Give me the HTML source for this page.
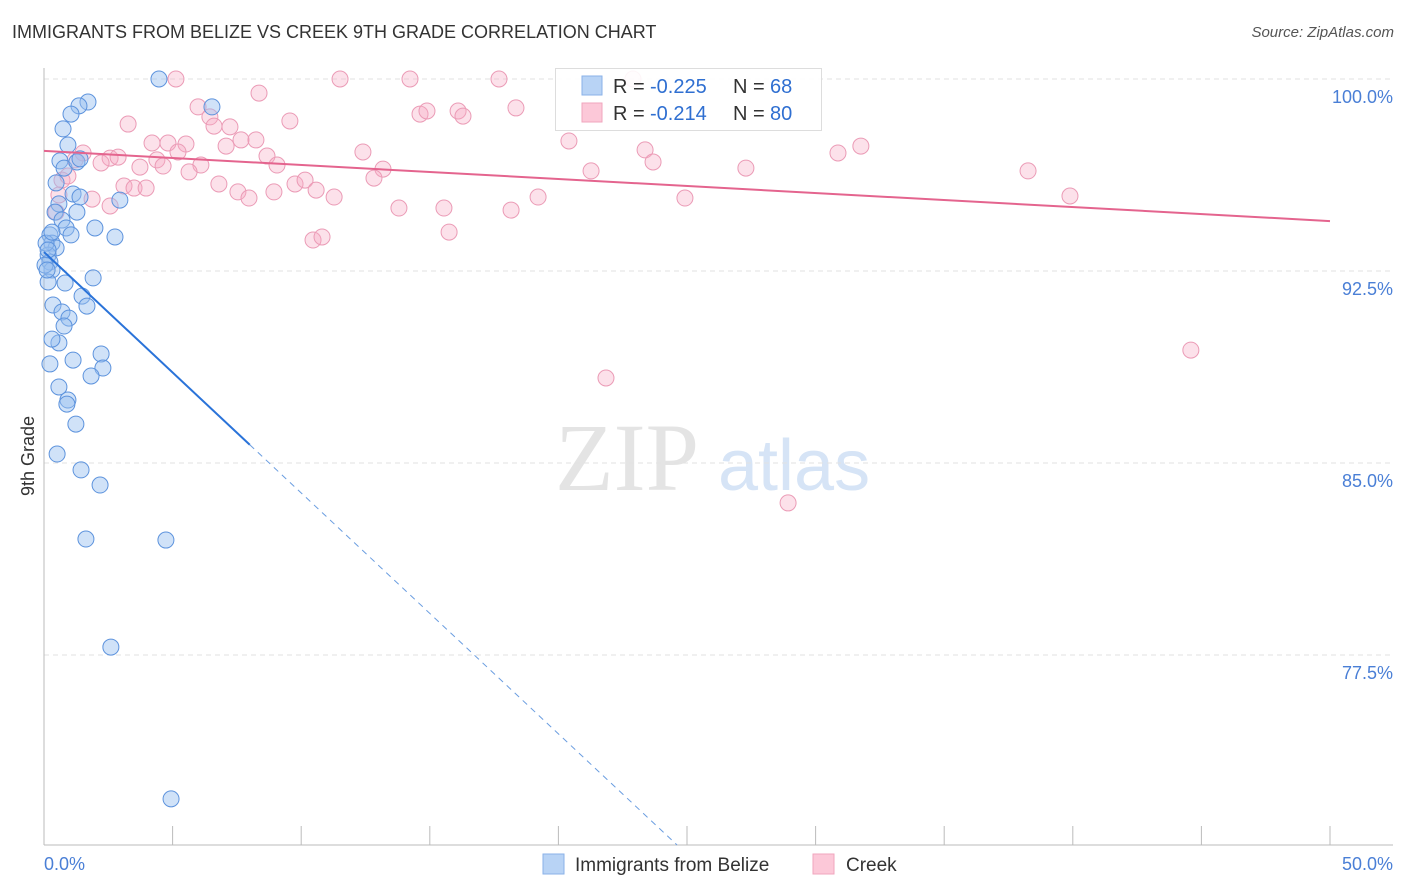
<!DOCTYPE html>
<html><head><meta charset="utf-8"><style>
body{margin:0;background:#fff;font-family:"Liberation Sans",sans-serif;}
#wrap{position:relative;width:1406px;height:892px;overflow:hidden;}
.t{position:absolute;white-space:nowrap;}
</style></head><body>
<div id="wrap">
<div class="t" style="left:12px;top:22px;font-size:18px;color:#333;">IMMIGRANTS FROM BELIZE VS CREEK 9TH GRADE CORRELATION CHART</div>
<div class="t" style="right:12px;top:24px;font-size:15px;color:#555;font-style:italic;">Source: ZipAtlas.com</div>
<svg id="chart" width="1406" height="892" style="position:absolute;left:0;top:0"></svg>
</div>
<script>
const blueX=[4.47,6.53,1.71,1.36,1.05,0.74,0.93,0.62,0.78,1.28,1.40,0.47,1.13,0.58,1.40,2.95,0.43,1.28,0.70,0.86,1.05,1.98,2.76,0.23,0.31,0.47,0.16,0.23,0.31,0.82,1.91,0.16,1.48,1.67,0.35,0.70,0.97,0.78,0.58,0.31,1.13,0.23,2.22,2.29,1.83,0.58,0.93,0.89,1.24,0.51,1.44,2.18,1.63,4.74,2.60,4.94,0.08,0.16,0.31,0.04,0.12];
const blueY=[100,98.91,99.10,98.95,98.63,98.05,97.42,96.80,96.52,96.76,96.88,95.94,95.51,95.12,95.39,95.27,94.80,94.80,94.49,94.18,93.91,94.18,93.83,93.91,93.59,93.40,93.12,92.85,92.54,92.03,92.23,92.07,91.52,91.13,91.17,90.90,90.66,90.35,89.69,89.84,89.02,88.87,89.26,88.71,88.40,87.97,87.46,87.30,86.52,85.35,84.73,84.14,82.03,81.99,77.81,71.88,93.59,93.32,94.02,92.73,92.54];
const pinkX=[5.13,11.51,14.23,17.69,22.90,8.36,5.99,6.45,6.61,3.27,7.23,14.62,14.89,16.10,16.29,18.35,9.56,4.20,4.82,5.52,7.66,8.24,7.08,12.40,20.41,23.37,31.76,30.87,1.52,2.57,2.22,2.88,4.39,5.21,8.67,9.06,6.10,5.64,4.63,3.73,13.18,12.83,21.27,23.68,27.29,38.26,39.89,24.92,19.21,3.11,3.50,3.97,6.80,7.54,7.97,8.94,9.76,10.15,10.58,11.28,1.87,2.57,13.80,15.55,18.16,10.46,10.81,15.75,44.59,21.85,28.93,0.70,0.58,0.47,1.21,0.93];
const pinkY=[100,100,100,100,100,99.45,98.91,98.52,98.16,98.24,98.13,98.63,98.75,98.75,98.55,98.87,98.36,97.50,97.50,97.46,97.62,97.62,97.38,97.15,97.58,97.23,97.38,97.11,97.11,96.91,96.72,96.95,96.84,97.15,96.99,96.64,96.64,96.37,96.60,96.56,96.48,96.13,96.41,96.76,96.52,96.41,95.43,95.35,95.39,95.82,95.74,95.74,95.90,95.59,95.35,95.59,95.90,96.05,95.66,95.39,95.31,95.04,94.96,94.96,94.88,93.71,93.83,94.02,89.41,88.32,83.44,96.05,95.47,94.80,96.84,96.21];
const yTicks=[100,92.5,85,77.5];
const yTickLabels=["100.0%","92.5%","85.0%","77.5%"];
const blueTrend=[93.24,-0.941];
const pinkTrend=[97.19,-0.0548];

const NS="http://www.w3.org/2000/svg";
const svg=document.getElementById('chart');
const X0=44,X1=1330,YB=845;
const sx=v=>X0+(v/50)*(X1-X0);
const sy=v=>79+(100-v)*25.6;
function el(tag,attrs,parent){const e=document.createElementNS(NS,tag);for(const k in attrs)e.setAttribute(k,attrs[k]);(parent||svg).appendChild(e);return e;}

// watermark
let w=el('text',{x:555,y:490,'font-size':96,fill:'#e4e4e4','font-family':'Liberation Serif'});w.textContent='ZIP';


let w2=el('text',{x:718,y:490,'font-size':72,fill:'#d6e4f6','font-family':'Liberation Sans'});w2.textContent='atlas';



yTicks.forEach((v,i)=>{
  const g=el('line',{x1:X0,x2:1393,y1:sy(v),y2:sy(v),stroke:'#e2e2e2','stroke-dasharray':'5,4'});
  
  
  const t=el('text',{x:1393,y:sy(v)+24,'text-anchor':'end','font-size':18,fill:'#4a7fd6'});t.textContent=yTickLabels[i];
  
  
});
let ax=el('line',{x1:X0,x2:X0,y1:68,y2:YB,stroke:'#bbb'});


let bx=el('line',{x1:X0,x2:1393,y1:YB,y2:YB,stroke:'#bbb'});


for(let i=0;i<=10;i++){const tk=el('line',{x1:X0+i*128.6,x2:X0+i*128.6,y1:826,y2:YB,stroke:'#bbb'});
  
  }
let xl=el('text',{x:44,y:870,'font-size':18,fill:'#4a7fd6'});xl.textContent='0.0%';


let xr=el('text',{x:1393,y:870,'font-size':18,fill:'#4a7fd6','text-anchor':'end'});xr.textContent='50.0%';


let yt=el('text',{x:34,y:456,'font-size':18,fill:'#333','text-anchor':'middle',transform:'rotate(-90 34 456)'});yt.textContent='9th Grade';



pinkX.forEach((x,i)=>{const c=el('circle',{cx:sx(x),cy:sy(pinkY[i]),r:8,fill:'rgba(245,170,195,0.35)',stroke:'#eb9bb6','stroke-width':1});
  
  });
blueX.forEach((x,i)=>{const c=el('circle',{cx:sx(x),cy:sy(blueY[i]),r:8,fill:'rgba(150,190,240,0.45)',stroke:'#5d93dd','stroke-width':1});
  
  });

// trends
const bxEnd=8;const bxZero=(sy.inv=(p)=>100-(p-79)/25.6, (blueTrend[0]-sy.inv(YB))/(-blueTrend[1]));
let bl=el('line',{x1:sx(0),y1:sy(blueTrend[0]),x2:sx(bxEnd),y2:sy(blueTrend[0]+blueTrend[1]*bxEnd),stroke:'#2a73d9','stroke-width':2});


let bd=el('line',{x1:sx(bxEnd),y1:sy(blueTrend[0]+blueTrend[1]*bxEnd),x2:sx(bxZero),y2:YB,stroke:'#6a9de0','stroke-width':1,'stroke-dasharray':'6,5'});


let pl=el('line',{x1:sx(0),y1:sy(pinkTrend[0]),x2:sx(50),y2:sy(pinkTrend[0]+pinkTrend[1]*50),stroke:'#e4648e','stroke-width':2});



// legend box
let lg=el('g',{});


el('rect',{x:555.5,y:68.5,width:266,height:62,fill:'rgba(255,255,255,0.9)',stroke:'#ddd'},lg);
el('rect',{x:582,y:76,width:20,height:19,fill:'#b8d3f5',stroke:'#8ab2e8'},lg);
el('rect',{x:582,y:103,width:20,height:19,fill:'#fcc8d8',stroke:'#f0a6be'},lg);
[[93,'-0.225','68'],[120,'-0.214','80']].forEach(r=>{
  const a=el('text',{x:613,y:r[0],'font-size':20,fill:'#333'},lg);a.textContent='R = ';
  const b=el('text',{x:650,y:r[0],'font-size':20,fill:'#2f6fd1'},lg);b.textContent=r[1];
  const c=el('text',{x:733,y:r[0],'font-size':20,fill:'#333'},lg);c.textContent='N = ';
  const d=el('text',{x:770,y:r[0],'font-size':20,fill:'#2f6fd1'},lg);d.textContent=r[2];
});
// bottom legend
let b1=el('rect',{x:543,y:854,width:21,height:20,fill:'#b8d3f5',stroke:'#8ab2e8'});


let bt=el('text',{x:575,y:871,'font-size':19,fill:'#333'});bt.textContent='Immigrants from Belize';


let b2=el('rect',{x:813,y:854,width:21,height:20,fill:'#fcc8d8',stroke:'#f0a6be'});


let ct=el('text',{x:846,y:871,'font-size':19,fill:'#333'});ct.textContent='Creek';


</script>
</body></html>
